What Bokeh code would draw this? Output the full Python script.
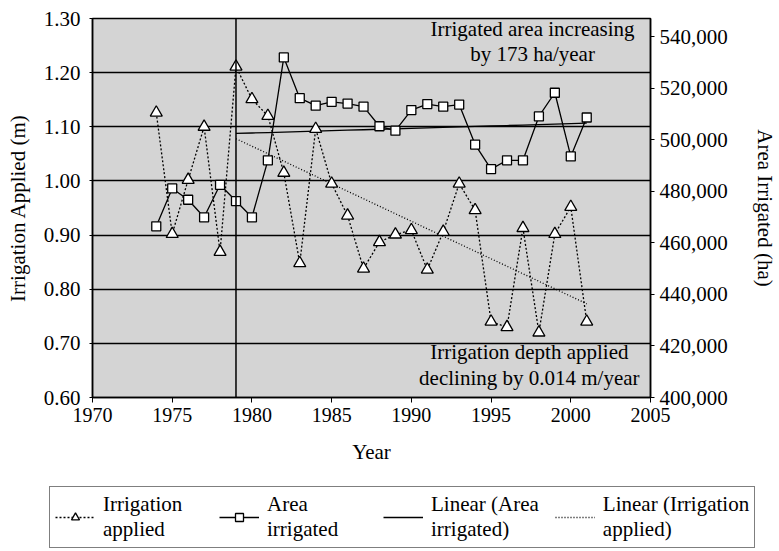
import numpy as np
from bokeh.plotting import figure
from bokeh.layouts import column
from bokeh.models import (Range1d, LinearAxis, FixedTicker, NumeralTickFormatter,
                          Span, Label, Legend, LegendItem)
from bokeh.embed import file_html
from bokeh.resources import INLINE

# ---- data ----
years = [1974, 1975, 1976, 1977, 1978, 1979, 1980, 1981, 1982, 1983, 1984, 1985, 1986, 1987,
         1988, 1989, 1990, 1991, 1992, 1993, 1994, 1995, 1996, 1997, 1998, 1999, 2000, 2001]
irrigation_applied = [1.126, 0.902, 1.002, 1.100, 0.869, 1.211, 1.151, 1.120, 1.015, 0.848,
                      1.096, 0.995, 0.936, 0.838, 0.887, 0.901, 0.909, 0.836, 0.906, 0.995,
                      0.946, 0.740, 0.730, 0.913, 0.720, 0.902, 0.952, 0.740]
area_irrigated = [466400, 481100, 476700, 469900, 482500, 476200, 469900, 492000, 531900, 516100,
                  513200, 514700, 514000, 512800, 505200, 503500, 511500, 513800, 512800, 513600,
                  498100, 488600, 492000, 492000, 509000, 518200, 493500, 508600]
trend_start = 1979
x_ticks = [1970, 1975, 1980, 1985, 1990, 1995, 2000, 2005]
y_ticks = [0.60, 0.70, 0.80, 0.90, 1.00, 1.10, 1.20, 1.30]
area_ticks = [400000, 420000, 440000, 460000, 480000, 500000, 520000, 540000]
legend_labels = ["Irrigation\napplied", "Area\nirrigated", "Linear (Area\nirrigated)",
                 "Linear (Irrigation\napplied)"]
note_top = "Irrigated area increasing\nby 173 ha/year"
note_bottom = "Irrigation depth applied\ndeclining by 0.014 m/year"

FONT = "Liberation Serif"
FS = "21px"

yrs = np.array(years, dtype=float)
irr = np.array(irrigation_applied)
area = np.array(area_irrigated, dtype=float)
sel = yrs >= trend_start
yt = yrs[sel]
fit_area = np.polyval(np.polyfit(yt, area[sel], 1), yt)
fit_irr = np.polyval(np.polyfit(yt, irr[sel], 1), yt)

p = figure(width=779, height=480,
           x_range=Range1d(1970, 2005), y_range=Range1d(0.60, 1.30),
           output_backend="svg", toolbar_location=None,
           min_border_left=92, min_border_right=126, min_border_top=18, min_border_bottom=83,
           background_fill_color="#d4d4d4", border_fill_color="white",
           outline_line_color="black", outline_line_width=1.5)
p.frame_align = False
p.extra_y_ranges = {"area": Range1d(400000, 547000)}

# axes
for ax in (p.xaxis[0], p.yaxis[0]):
    ax.axis_line_color = "black"
    ax.axis_line_width = 1.5
    ax.major_tick_line_color = "black"
    ax.major_tick_in = 0
    ax.major_tick_out = 5
    ax.minor_tick_line_color = None
    ax.major_label_text_font = FONT
    ax.major_label_text_font_size = FS
    ax.major_label_text_color = "black"
    ax.axis_label_text_font = FONT
    ax.axis_label_text_font_size = FS
    ax.axis_label_text_font_style = "normal"
    ax.axis_label_text_color = "black"

p.xaxis.ticker = FixedTicker(ticks=x_ticks)
p.xaxis.axis_label = "Year"
p.xaxis.major_label_text_font_size = "20px"
p.xaxis.major_label_standoff = 5
p.xaxis.axis_label_standoff = 15

p.yaxis.ticker = FixedTicker(ticks=y_ticks)
p.yaxis.formatter = NumeralTickFormatter(format="0.00")
p.yaxis.axis_label = "Irrigation Applied (m)"
p.yaxis.major_tick_out = 3
p.yaxis.major_label_standoff = 9
p.yaxis.axis_label_standoff = 11

ra = LinearAxis(y_range_name="area", ticker=FixedTicker(ticks=area_ticks),
                formatter=NumeralTickFormatter(format="0,0"),
                axis_label="Area Irrigated (ha)")
ra.axis_line_color = "black"
ra.axis_line_width = 1.5
ra.major_tick_line_color = "black"
ra.major_tick_in = 0
ra.major_tick_out = 4
ra.minor_tick_line_color = None
ra.major_label_standoff = 5
ra.major_label_text_font = FONT
ra.major_label_text_font_size = FS
ra.major_label_text_color = "black"
ra.axis_label_text_font = FONT
ra.axis_label_text_font_size = FS
ra.axis_label_text_font_style = "normal"
ra.axis_label_text_color = "black"
ra.axis_label_standoff = 22
p.add_layout(ra, "right")

p.xgrid.visible = False
p.ygrid.ticker = FixedTicker(ticks=y_ticks)
p.ygrid.grid_line_color = "black"
p.ygrid.grid_line_width = 1.5

p.add_layout(Span(location=trend_start, dimension="height", line_color="black", line_width=1.5))

# series
line_irr = dict(line_color="black", line_width=1.3, line_dash="2 2")
line_area = dict(line_color="black", line_width=1.3)
line_fit_area = dict(line_color="black", line_width=1.3)
line_fit_irr = dict(line_color="black", line_width=1.3, line_dash="1 2")
mk_irr = dict(marker="triangle", size=12, fill_color="white", line_color="black", line_width=1.3)
mk_area = dict(marker="square", size=9, fill_color="white", line_color="black", line_width=1.3)

p.line(yrs, irr, **line_irr)
p.line(yrs, area, y_range_name="area", **line_area)
p.line(yt, fit_area, y_range_name="area", **line_fit_area)
p.line(yt, fit_irr, **line_fit_irr)
p.scatter(yrs, irr, **mk_irr)
p.scatter(yrs, area, y_range_name="area", **mk_area)

# notes
p.add_layout(Label(x=1997.6, y=1.30, text=note_top, text_align="center", text_baseline="top",
                   y_offset=2, text_font=FONT, text_font_size=FS, text_color="black",
                   text_line_height=1.05))
p.add_layout(Label(x=1997.4, y=0.60, text=note_bottom, text_align="center",
                   text_baseline="bottom", y_offset=7, text_font=FONT, text_font_size=FS,
                   text_color="black", text_line_height=1.1))

# legend strip below the chart (its renderers hold the same series, kept out of view)
lg = figure(width=779, height=71, x_range=Range1d(0, 1), y_range=Range1d(0, 1),
            x_axis_type=None, y_axis_type=None, output_backend="svg", toolbar_location=None,
            min_border=0, min_border_left=0, min_border_right=0, min_border_top=0,
            min_border_bottom=0, outline_line_color=None, background_fill_color="white",
            border_fill_color="white")
lg.frame_align = False
lg.grid.visible = False
a1 = lg.line(yrs, irr, **line_irr)
a2 = lg.scatter(yrs, irr, **mk_irr)
b1 = lg.line(yrs, irr, **line_area)
b2 = lg.scatter(yrs, irr, **mk_area)
c1 = lg.line(yt, fit_irr, **line_fit_area)
d1 = lg.line(yt, fit_irr, **line_fit_irr)
legend = Legend(items=[LegendItem(label=legend_labels[0], renderers=[a1, a2]),
                       LegendItem(label=legend_labels[1], renderers=[b1, b2]),
                       LegendItem(label=legend_labels[2], renderers=[c1]),
                       LegendItem(label=legend_labels[3], renderers=[d1])],
                orientation="horizontal", location=(49, 3),
                label_text_font=FONT, label_text_font_size=FS, label_text_color="black",
                label_text_line_height=1.2,
                glyph_width=40, glyph_height=20, label_standoff=8, spacing=16,
                padding=5, margin=0, label_width=100,
                border_line_color="black", border_line_width=1.5,
                background_fill_color="white", background_fill_alpha=1.0)
lg.add_layout(legend)

open("out.html", "w").write(file_html(column(p, lg, spacing=0), INLINE))
